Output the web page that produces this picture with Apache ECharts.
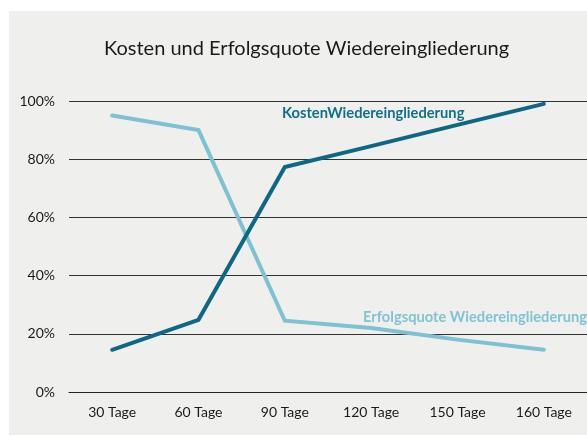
<!DOCTYPE html>
<html>
<head>
<meta charset="utf-8">
<script src="https://cdn.jsdelivr.net/npm/echarts@6/dist/echarts.min.js"></script>
<style>
    html, body { margin: 0; padding: 0; background: #fff; }
    #main { width: 587px; height: 436px; }
</style>
</head>
<body>
<div id="main"></div>
<script>
    var categories = ['30 Tage', '60 Tage', '90 Tage', '120 Tage', '150 Tage', '160 Tage'];
    var kosten = [14.5, 24.8, 77.3, 84.5, 91.8, 99];
    var erfolg = [95, 90, 24.5, 22, 18, 14.5];
    var yTicks = [0, 20, 40, 60, 80, 100];

    var fontFam = 'Lato, "Open Sans", sans-serif';

    var option = {
        backgroundColor: '#ffffff',
        animation: false,
        title: {
            text: 'Kosten und Erfolgsquote Wiedereingliederung',
            left: 99,
            top: 34,
            textStyle: { fontFamily: fontFam, fontSize: 20, fontWeight: 'normal', color: '#1a1a1a' }
        },
        graphic: [
            {
                type: 'rect',
                z: -1,
                shape: { x: 9, y: 11, width: 600, height: 424 },
                style: { fill: '#eff0ee' }
            },
            {
                type: 'text',
                left: 282,
                top: 106,
                style: {
                    text: 'KostenWiedereingliederung',
                    fill: '#12708a',
                    font: 'bold 14.7px ' + fontFam
                }
            },
            {
                type: 'text',
                left: 363,
                top: 310,
                style: {
                    text: 'Erfolgsquote Wiedereingliederung',
                    fill: '#82c3d3',
                    font: 'bold 14.7px ' + fontFam
                }
            }
        ],
        grid: { left: 69, right: -5, top: 101, bottom: 44 },
        xAxis: {
            type: 'category',
            data: categories,
            boundaryGap: true,
            axisLine: { show: true, lineStyle: { color: '#222', width: 1 } },
            axisTick: { show: false },
            axisLabel: { color: '#1a1a1a', fontFamily: fontFam, fontSize: 14, margin: 13 }
        },
        yAxis: {
            type: 'value',
            min: 0,
            max: 100,
            interval: 20,
            axisLine: { show: false },
            axisTick: { show: false },
            axisLabel: {
                color: '#1a1a1a', fontFamily: fontFam, fontSize: 14, margin: 14,
                formatter: function (v) { return yTicks.indexOf(v) >= 0 ? v + '%' : ''; }
            },
            splitLine: { lineStyle: { color: '#333', width: 1 } }
        },
        series: [
            {
                name: 'KostenWiedereingliederung',
                type: 'line',
                data: kosten,
                symbol: 'none',
                lineStyle: { color: '#0e6883', width: 4, cap: 'round', join: 'miter' },
                z: 3
            },
            {
                name: 'Erfolgsquote Wiedereingliederung',
                type: 'line',
                data: erfolg,
                symbol: 'none',
                lineStyle: { color: '#7fc0d1', width: 4, cap: 'round', join: 'miter' },
                z: 2
            }
        ]
    };

    var chart = echarts.init(document.getElementById('main'));
    chart.setOption(option);
</script>
</body>
</html>
